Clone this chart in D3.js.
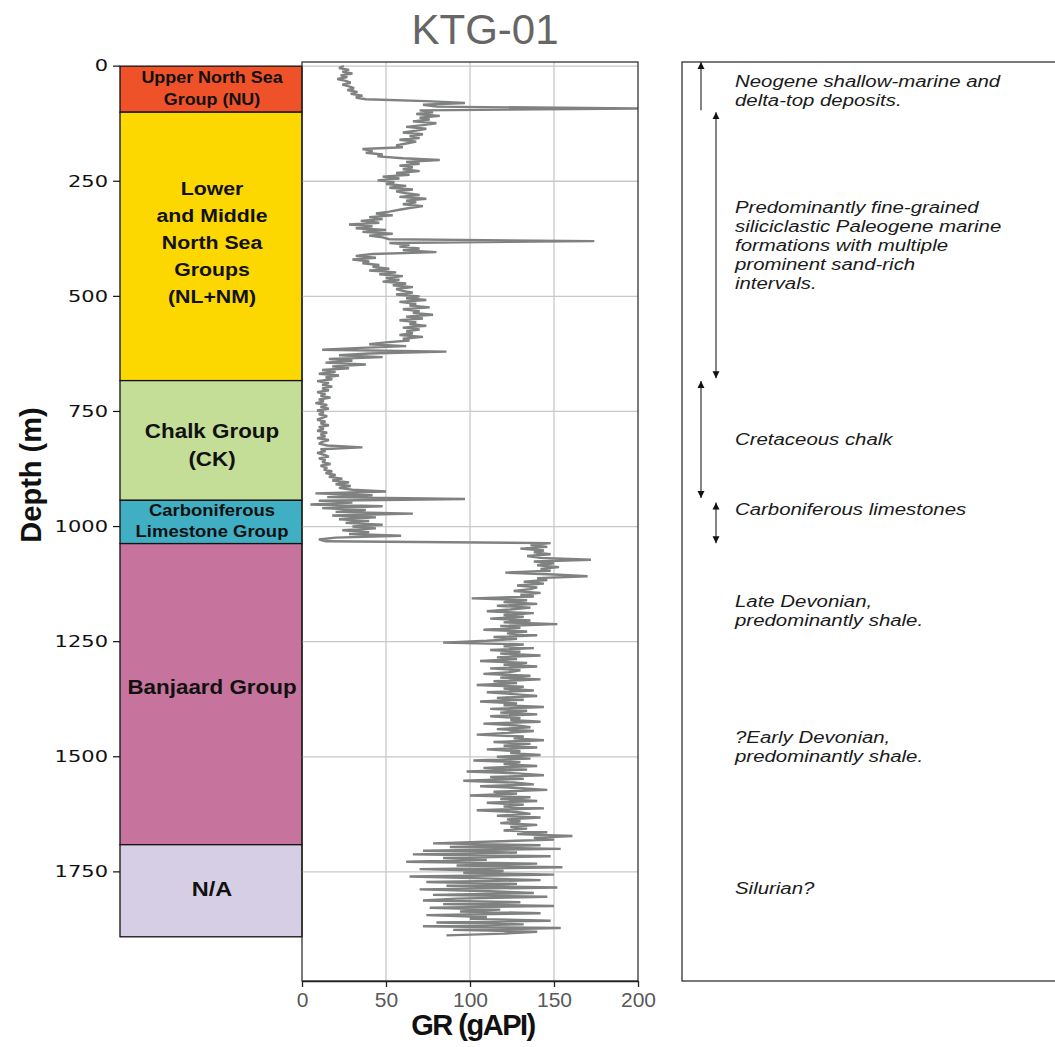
<!DOCTYPE html>
<html>
<head>
<meta charset="utf-8">
<script src="https://cdn.jsdelivr.net/npm/d3@7"></script>
<style>
  body { margin: 0; background: #fff; }
  svg { display: block; font-family: "Liberation Sans", Arial, sans-serif; }
</style>
</head>
<body>
<div class="log-container"></div>
<script>
// Data
const wellName = 'KTG-01';
const depthTicks = [0, 250, 500, 750, 1000, 1250, 1500, 1750];
const grTicks = [0, 50, 100, 150, 200];

// stratigraphic units (m)
const unitTops = [0, 100, 683, 943, 1037, 1691];
const unitBases = [100, 683, 943, 1037, 1691, 1891];
const unitLabels = [
    ['Upper North Sea', 'Group (NU)'],
    ['Lower', 'and Middle', 'North Sea', 'Groups', '(NL+NM)'],
    ['Chalk Group', '(CK)'],
    ['Carboniferous', 'Limestone Group'],
    ['Banjaard Group'],
    ['N/A']
];
const unitColors = ['#ef5229', '#fdd800', '#c4de98', '#40afc3', '#c6749d', '#d6cee5'];

// GR log (gAPI), one reading every 4 m from 0 m
const grStep = 4;
const grValues = [
    25, 22, 28, 24, 30, 23, 27, 21, 26, 29, 24, 28, 31, 27, 33, 29, 36, 32, 38, 74, 97, 72, 80, 200, 70,
    78, 68, 82, 70, 76, 66, 80, 72, 62, 74, 68, 60, 72, 64, 70, 58, 68, 62, 56, 60, 36, 42, 38, 48, 45,
    60, 82, 62, 70, 58, 66, 60, 70, 56, 64, 48, 58, 45, 55, 50, 62, 52, 66, 56, 62, 70, 58, 74, 62, 68,
    60, 72, 64, 58, 52, 44, 54, 40, 48, 35, 46, 28, 42, 32, 50, 36, 54, 40, 48, 52, 174, 52, 64, 58, 70,
    60, 80, 42, 32, 44, 30, 40, 36, 46, 42, 52, 40, 56, 46, 60, 50, 58, 48, 62, 54, 66, 56, 60, 66, 56,
    70, 62, 74, 58, 68, 64, 76, 60, 70, 66, 78, 62, 72, 58, 68, 64, 74, 60, 70, 62, 66, 58, 72, 60, 64,
    50, 40, 62, 35, 12, 86, 40, 22, 48, 16, 30, 14, 38, 18, 28, 12, 20, 10, 22, 14, 18, 9, 16, 12, 18,
    12, 16, 9, 14, 11, 17, 10, 13, 8, 15, 11, 16, 9, 13, 10, 15, 12, 9, 14, 11, 16, 10, 13, 9, 15,
    11, 14, 9, 16, 12, 10, 15, 36, 11, 14, 9, 13, 16, 10, 14, 12, 17, 11, 15, 13, 18, 14, 20, 16, 24,
    18, 28, 20, 29, 22, 30, 50, 8, 42, 15, 97, 10, 30, 5, 48, 12, 38, 20, 66, 18, 44, 22, 40, 26, 48,
    30, 44, 24, 40, 28, 59, 20, 10, 14, 148, 136, 146, 130, 144, 138, 148, 134, 142, 172, 138, 150, 140, 153, 142, 148,
    121, 150, 170, 140, 146, 132, 144, 128, 140, 136, 126, 142, 130, 138, 101, 134, 120, 140, 116, 136, 124, 110, 138, 120, 132,
    112, 136, 120, 152, 118, 130, 108, 134, 122, 140, 114, 128, 110, 84, 132, 120, 138, 112, 130, 118, 142, 116, 128, 106, 134,
    120, 140, 112, 130, 124, 108, 136, 118, 142, 114, 128, 104, 132, 120, 138, 110, 126, 140, 116, 132, 106, 128, 120, 144, 112,
    134, 118, 140, 112, 130, 124, 142, 108, 128, 136, 116, 138, 122, 104, 132, 126, 144, 114, 136, 120, 140, 110, 130, 124, 142,
    116, 136, 102, 130, 120, 140, 108, 134, 98, 128, 144, 112, 132, 96, 126, 138, 106, 130, 146, 114, 128, 100, 136, 118, 140,
    110, 132, 120, 144, 104, 128, 136, 116, 142, 122, 130, 118, 140, 124, 134, 120, 146, 128, 161, 138, 150, 114, 78, 142, 88,
    154, 72, 128, 66, 148, 84, 110, 62, 140, 92, 155, 70, 120, 96, 150, 64, 108, 142, 74, 128, 86, 152, 70, 112, 138,
    78, 146, 92, 72, 130, 84, 150, 76, 118, 94, 142, 74, 110, 100, 148, 80, 132, 72, 154, 90, 140, 120, 86
];

// interpretation panel: arrows (m) and notes
const arrowTops = [-9, 100, 684, 948];
const arrowBases = [96, 678, 938, 1036];
const arrowHeads = ['top', 'both', 'both', 'both'];
const noteDepths = [53, 389, 811, 963, 1183, 1477, 1785];
const noteLines = [
    ['Neogene shallow-marine and', 'delta-top deposits.'],
    ['Predominantly fine-grained', 'siliciclastic Paleogene marine', 'formations with multiple', 'prominent sand-rich', 'intervals.'],
    ['Cretaceous chalk'],
    ['Carboniferous limestones'],
    ['Late Devonian,', 'predominantly shale.'],
    ['?Early Devonian,', 'predominantly shale.'],
    ['Silurian?']
];

// 畫圖
function drawLog() {
    const svg_width = 1055;
    const svg_height = 1047;
    const svg = d3.select('.log-container').append('svg')
        .attr('width', svg_width).attr('height', svg_height);

    // shared depth scale, GR scale
    const yScale = d3.scaleLinear().domain([-9, 1987]).range([62, 981]);
    const xScale = d3.scaleLinear().domain([0, 200]).range([302, 638]);
    const colLeft = 120, colRight = 302;
    const panelTop = yScale.range()[0], panelBottom = yScale.range()[1];
    const noteLeft = 682;

    // title
    svg.append('text').attr('x', 485).attr('y', 44)
        .attr('text-anchor', 'middle')
        .style('font-size', '42px').style('fill', '#666')
        .text(wellName);

    // ---- strat column ----
    const units = unitTops.map((t, i) => ({ top: t, base: unitBases[i], lines: unitLabels[i], color: unitColors[i] }));
    const labelSize = [16, 19, 20, 16.5, 20, 21];
    const labelLead = [22, 27, 28, 21, 0, 0];
    const labelShift = [0, -4, 4, -1, -7, -2];
    const colGroup = svg.append('g').attr('class', 'strat-column');
    colGroup.selectAll('rect').data(units).enter()
        .append('rect')
        .attr('x', colLeft).attr('width', colRight - colLeft)
        .attr('y', d => yScale(d.top))
        .attr('height', d => yScale(d.base) - yScale(d.top))
        .style('fill', d => d.color)
        .style('stroke', '#111').style('stroke-width', 1.3);

    units.forEach((u, i) => {
        const mid = (yScale(u.top) + yScale(u.base)) / 2 + labelShift[i];
        const n = u.lines.length;
        u.lines.forEach((line, j) => {
            colGroup.append('text')
                .attr('transform', `translate(${(colLeft + colRight) / 2 + 1},${mid + (j - (n - 1) / 2) * labelLead[i]}) scale(1.12,1)`)
                .attr('text-anchor', 'middle').attr('dominant-baseline', 'central')
                .style('font-size', labelSize[i] + 'px').style('font-weight', 'bold').style('fill', '#111')
                .text(line);
        });
    });

    // depth axis
    const depthAxis = svg.append('g').attr('class', 'y axis');
    depthAxis.selectAll('line').data(depthTicks).enter()
        .append('line')
        .attr('x1', colLeft - 7).attr('x2', colLeft)
        .attr('y1', d => yScale(d)).attr('y2', d => yScale(d))
        .style('stroke', '#111').style('stroke-width', 1.2);
    depthAxis.selectAll('text').data(depthTicks).enter()
        .append('text')
        .attr('transform', d => `translate(${colLeft - 12},${yScale(d)}) scale(1.4,1)`)
        .attr('text-anchor', 'end').attr('dominant-baseline', 'central')
        .style('font-family', '"DejaVu Sans", sans-serif')
        .style('font-size', '15px').style('fill', '#111')
        .text(d => d);

    svg.append('text')
        .attr('transform', 'translate(31,475) rotate(-90)')
        .attr('text-anchor', 'middle').attr('dominant-baseline', 'central')
        .style('font-size', '29px').style('font-weight', 'bold').style('fill', '#111')
        .text('Depth (m)');

    // ---- GR panel ----
    const grid = svg.append('g').attr('class', 'grid');
    grid.selectAll('.h-grid').data(depthTicks).enter()
        .append('line').attr('class', 'h-grid')
        .attr('x1', xScale(0)).attr('x2', xScale(200))
        .attr('y1', d => yScale(d)).attr('y2', d => yScale(d));
    grid.selectAll('.v-grid').data(grTicks.slice(1, -1)).enter()
        .append('line').attr('class', 'v-grid')
        .attr('x1', d => xScale(d)).attr('x2', d => xScale(d))
        .attr('y1', panelTop).attr('y2', panelBottom);
    grid.selectAll('line').style('stroke', '#c8c8c8').style('stroke-width', 1.3);

    const grData = grValues.map((v, i) => ({ depth: i * grStep, gr: v }));
    const lineGen = d3.line().x(d => xScale(d.gr)).y(d => yScale(d.depth));
    svg.append('path').datum(grData)
        .attr('class', 'gr-curve')
        .attr('d', lineGen)
        .style('fill', 'none').style('stroke', '#808281')
        .style('stroke-width', 2.4).style('stroke-linejoin', 'bevel');

    svg.append('rect')
        .attr('x', xScale(0)).attr('y', panelTop)
        .attr('width', xScale(200) - xScale(0)).attr('height', panelBottom - panelTop)
        .style('fill', 'none').style('stroke', '#222').style('stroke-width', 1.2);

    const xAxis = d3.axisBottom(xScale).tickValues(grTicks).tickSize(6).tickSizeOuter(0).tickPadding(5);
    const xAxisG = svg.append('g').attr('class', 'x axis')
        .attr('transform', `translate(0,${panelBottom})`)
        .call(xAxis);
    xAxisG.select('.domain').style('stroke', '#222').style('stroke-width', 1.6);
    xAxisG.selectAll('line').style('stroke', '#222').style('stroke-width', 1.3);
    xAxisG.selectAll('text')
        .style('font-family', '"Liberation Sans", Arial, sans-serif')
        .style('font-size', '21px').style('fill', '#595959');

    svg.append('text')
        .attr('x', (xScale(0) + xScale(200)) / 2 + 3).attr('y', 1035)
        .attr('text-anchor', 'middle')
        .style('font-size', '29px').style('font-weight', 'bold').style('fill', '#111')
        .style('letter-spacing', '-1.5px')
        .text('GR (gAPI)');

    // ---- interpretation panel ----
    svg.append('rect')
        .attr('x', noteLeft).attr('y', panelTop)
        .attr('width', 400).attr('height', panelBottom - panelTop)
        .style('fill', 'none').style('stroke', '#222').style('stroke-width', 1.2);

    const defs = svg.append('defs');
    defs.append('marker').attr('id', 'head')
        .attr('viewBox', '0 0 10 10').attr('refX', 10).attr('refY', 5)
        .attr('markerWidth', 7).attr('markerHeight', 8)
        .attr('markerUnits', 'userSpaceOnUse')
        .attr('orient', 'auto-start-reverse')
        .append('path').attr('d', 'M0,0L10,5L0,10Z').style('fill', '#111');

    const arrows = arrowTops.map((t, i) => ({ top: t, base: arrowBases[i], heads: arrowHeads[i], lane: i % 2 }));
    svg.append('g').attr('class', 'arrows')
        .selectAll('line').data(arrows).enter()
        .append('line')
        .attr('x1', d => noteLeft + 19 + d.lane * 15).attr('x2', d => noteLeft + 19 + d.lane * 15)
        .attr('y1', d => yScale(d.top)).attr('y2', d => yScale(d.base))
        .attr('marker-start', 'url(#head)')
        .attr('marker-end', d => d.heads === 'both' ? 'url(#head)' : null)
        .style('stroke', '#333').style('stroke-width', 1.2);

    const notes = svg.append('g').attr('class', 'notes');
    noteDepths.forEach((dep, i) => {
        const n = noteLines[i].length;
        noteLines[i].forEach((line, j) => {
            notes.append('text')
                .attr('transform', `translate(735,${yScale(dep) + (j - (n - 1) / 2) * 19}) scale(1.2,1)`)
                .attr('dominant-baseline', 'central')
                .style('font-size', '17px').style('font-style', 'italic').style('fill', '#1a1a1a')
                .text(line);
        });
    });
}

drawLog();
</script>
</body>
</html>
